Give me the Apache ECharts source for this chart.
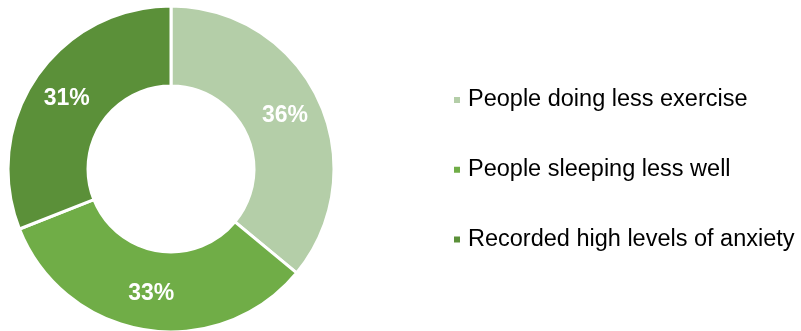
<!DOCTYPE html>
<html>
<head>
<meta charset="utf-8">
<script src="https://cdn.jsdelivr.net/npm/echarts@6/dist/echarts.min.js"></script>
<style>
  html, body { margin: 0; padding: 0; background: #fff; }
  #main { width: 801px; height: 331px; }
</style>
</head>
<body>
<div id="main"></div>
<script>
const categories = ['People doing less exercise', 'People sleeping less well', 'Recorded high levels of anxiety']
const values = [36, 33, 31]
const colors = ['#B4CEA8', '#70AD47', '#5B9039']

const chart = echarts.init(document.getElementById('main'))

chart.setOption({
  animation: false,
  color: colors,
  legend: {
    orient: 'vertical',
    left: 447,
    top: 83,
    padding: 5,
    itemGap: 45.7,
    icon: 'rect',
    itemWidth: 8,
    itemHeight: 8,
    textStyle: {
      fontFamily: 'Liberation Sans',
      fontSize: 23.5,
      lineHeight: 23,
      color: '#000',
      padding: [0, 0, 0, 2]
    },
    data: categories
  },
  series: [{
    type: 'pie',
    center: [171, 169],
    radius: [83, 163],
    startAngle: 90,
    clockwise: true,
    itemStyle: { borderColor: '#fff', borderWidth: 3 },
    label: {
      position: 'inside',
      formatter: '{c}%',
      color: '#fff',
      fontFamily: 'Liberation Sans',
      fontWeight: 'bold',
      fontSize: 23
    },
    labelLine: { show: false },
    emphasis: { disabled: true },
    data: categories.map((name, i) => ({ name: name, value: values[i] }))
  }]
})
</script>
</body>
</html>
